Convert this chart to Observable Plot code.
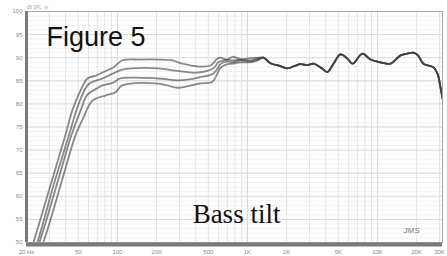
<!DOCTYPE html>
<html>
<head>
<meta charset="utf-8">
<script src="https://cdn.jsdelivr.net/npm/d3@7"></script>
<script src="https://cdn.jsdelivr.net/npm/@observablehq/plot@0.6"></script>
<style>
html,body{margin:0;padding:0;background:#fff;}
#chart svg{display:block;}
</style>
</head>
<body>
<div id="chart"></div>
<script>
// ---- Data ----
const titleText = "Figure 5";
const annotationText = "Bass tilt";
const signatureText = "JMS";
const topNote = "dB SPL  re  ·";

const yTickValues = [50, 55, 60, 65, 70, 75, 80, 85, 90, 95, 100];
const yTickLabels = ["50", "55", "60", "65", "70", "75", "80", "85", "90", "95", "100"];
const xTickValues = [20, 50, 100, 200, 500, 1000, 2000, 5000, 10000, 20000, 30000];
const xTickLabels = ["20 Hz", "50", "100", "200", "500", "1K", "2K", "5K", "10K", "20K", "30K"];

// Four bass-tilt variants (low/mid frequency part)
const curveAFreq = [20, 22.6, 30.5, 39.8, 45, 50, 58.8, 68, 76.7, 93, 109, 150, 207, 265, 316, 420, 520, 588, 620, 700, 767, 883, 1055, 1200];
const curveADb   = [45.5, 50, 62.3, 73.2, 78.6, 81.8, 85.5, 86.1, 86.8, 87.9, 89.4, 89.6, 89.6, 89.4, 88.7, 88.1, 88.3, 89.8, 90.0, 89.6, 90.2, 89.7, 89.9, 90.0];

const curveBFreq = [20, 24.2, 32.2, 42.4, 47.6, 52, 59.8, 76.7, 93, 109, 207, 279, 420, 547, 596, 620, 700, 767, 883, 1055, 1200];
const curveBDb   = [44, 50, 62.3, 73.2, 78.0, 81.0, 84.2, 85.5, 86.6, 87.4, 87.7, 87.2, 86.8, 87.7, 89.0, 89.2, 89.6, 89.4, 89.6, 89.4, 89.8];

const curveCFreq = [20, 25.1, 34.0, 44.3, 52, 58.8, 68, 76.7, 93, 105, 207, 294, 420, 547, 596, 620, 700, 767, 883, 1055, 1200];
const curveCDb   = [42.5, 50, 62.3, 73.2, 78.5, 82.0, 83.2, 84.0, 84.6, 85.5, 85.5, 85.1, 85.7, 86.6, 87.9, 88.6, 89.2, 89.0, 89.4, 89.2, 89.6];

const curveDFreq = [20, 26.9, 36.5, 47.6, 53.7, 64.3, 80.9, 96.5, 109, 207, 294, 420, 538, 588, 620, 700, 767, 883, 1055, 1200];
const curveDDb   = [41, 50, 62.3, 73.2, 76.5, 80.7, 81.8, 82.5, 84.0, 84.4, 83.5, 84.4, 84.8, 86.6, 87.8, 88.6, 88.7, 89.0, 89.0, 89.4];

// Shared upper-frequency response (identical for all variants)
const hfFreq = [1328, 1503, 1794, 2031, 2300, 2557, 2900, 3219, 3700, 4124, 4588, 5190, 5875, 6423, 7674, 8834, 10540, 12590, 15030, 17000, 18920, 20500, 22590, 26980, 29000, 30550, 32000];
const hfDb   = [90.0, 88.8, 88.2, 87.7, 88.2, 88.6, 88.4, 88.7, 87.8, 86.9, 88.7, 90.7, 89.8, 88.7, 90.9, 89.6, 89.0, 88.7, 90.5, 90.9, 91.1, 90.5, 88.7, 87.9, 86.5, 83.5, 80.5];

// ---- Build table ----
const curves = [
  {name: "A", f: curveAFreq, db: curveADb},
  {name: "B", f: curveBFreq, db: curveBDb},
  {name: "C", f: curveCFreq, db: curveCDb},
  {name: "D", f: curveDFreq, db: curveDDb}
];
const rows = [];
for (const c of curves) {
  c.f.forEach((f, i) => rows.push({curve: c.name, freq: f, db: c.db[i]}));
  hfFreq.forEach((f, i) => rows.push({curve: c.name, freq: f, db: hfDb[i]}));
}

// grid positions (log minor ticks, 1 dB steps)
const minorFreqs = [];
for (const dec of [10, 100, 1000, 10000]) for (let m = 1; m <= 9; m++) { const v = dec * m; if (v >= 20 && v <= 31623) minorFreqs.push(v); }
const decadeFreqs = [100, 1000, 10000];
const minorDb = d3.range(50, 101, 1);

const xTicks = xTickValues.map((v, i) => ({v, label: xTickLabels[i]}));
const yTicks = yTickValues.map((v, i) => ({v, label: yTickLabels[i]}));

const chart = Plot.plot({
  width: 447,
  height: 256,
  marginLeft: 26,
  marginRight: 5,
  marginTop: 11,
  marginBottom: 14,
  x: {type: "log", domain: [20, 31623], axis: null},
  y: {domain: [50, 100], axis: null},
  style: {background: "white", fontFamily: "'Liberation Sans', Arial, sans-serif"},
  marks: [
    Plot.ruleY(minorDb, {stroke: "#f1f1f1", strokeWidth: 1}),
    Plot.ruleX(minorFreqs, {stroke: "#e4e4e4", strokeWidth: 1}),
    Plot.ruleX(decadeFreqs, {stroke: "#d8d8d8", strokeWidth: 1}),
    Plot.ruleY(yTickValues, {stroke: "#dadada", strokeWidth: 1}),
    Plot.frame({stroke: "#a8a8a8", strokeWidth: 1}),
    Plot.line(rows, {x: "freq", y: "db", z: "curve", stroke: "#3a3a3a", strokeWidth: 1.8, strokeOpacity: 0.6, curve: "catmull-rom", clip: true}),
    // heavy left & bottom axis lines
    Plot.ruleX([20], {stroke: "#7a7a7a", strokeWidth: 3}),
    Plot.ruleY([50], {stroke: "#7a7a7a", strokeWidth: 4, dy: 2, x1: 20, x2: 31623}),
    // tick labels
    Plot.text(yTicks, {x: 20, y: "v", text: "label", textAnchor: "end", dx: -4, fontSize: 6, fill: "#8a8a8a"}),
    Plot.text(xTicks, {x: "v", y: 50, text: "label", dy: 10, fontSize: 6, fill: "#8a8a8a", textAnchor: "middle"}),
    // annotations
    Plot.text([titleText], {frameAnchor: "top-left", textAnchor: "start", dx: 20, dy: 15.5, fontSize: 27, fill: "#111"}),
    Plot.text([annotationText], {frameAnchor: "bottom", dx: 2, dy: -20, fontSize: 27, fill: "#111", fontFamily: "'Liberation Serif', 'Times New Roman', serif"}),
    Plot.text([signatureText], {frameAnchor: "bottom-right", dx: -23, dy: -10, fontSize: 8, fontStyle: "italic", fill: "#777"}),
    Plot.text([topNote], {frameAnchor: "top-left", textAnchor: "start", dx: 0, dy: -6, fontSize: 4.5, fill: "#aaa"})
  ]
});
document.getElementById("chart").appendChild(chart);
</script>
</body>
</html>
